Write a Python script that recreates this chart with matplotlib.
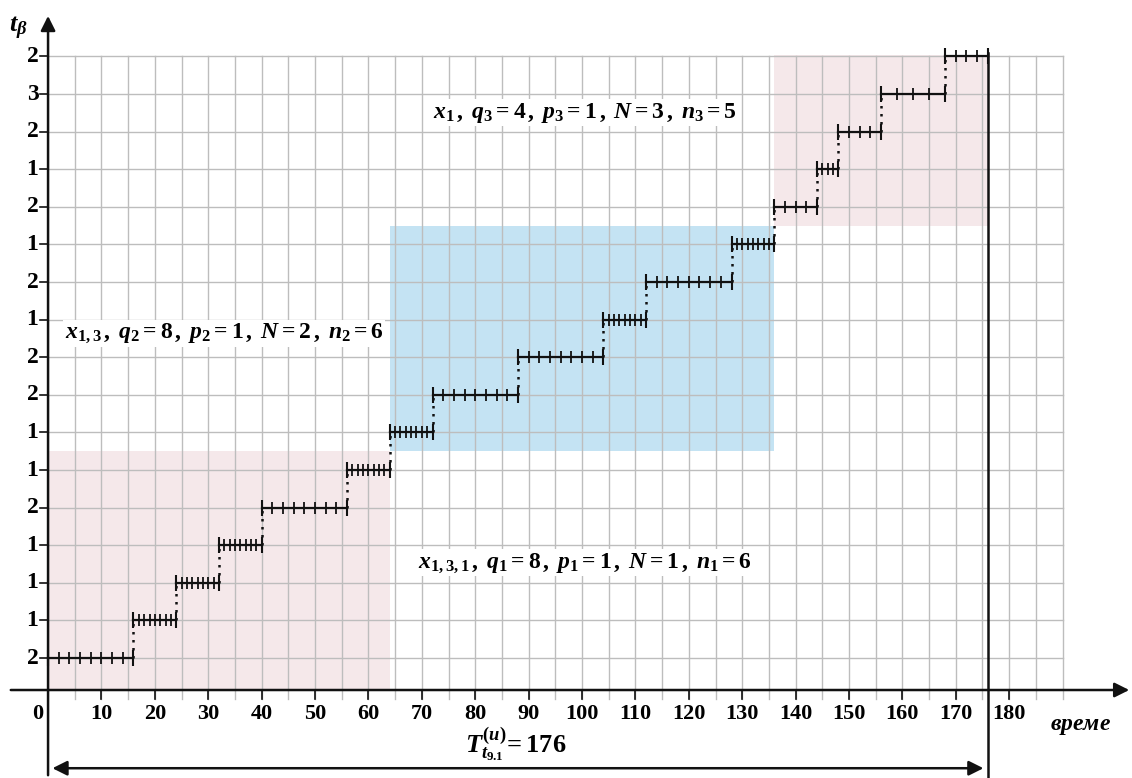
import matplotlib
matplotlib.use('Agg')
import matplotlib.pyplot as plt
import matplotlib.patches as mpatches
import numpy as np

# вредности t_beta по нивоима, одоздо нагоре
t_beta = [2, 1, 1, 1, 2, 1, 1, 2, 2, 1, 2, 1, 2, 1, 2, 3, 2]
# број подеока у сваком сегменту
q_parts = [8] * 12 + [4] * 5
# групе сегмената (почетак, крај) и боја подлоге
groups = [(0, 6, '#f5e8ea'), (6, 12, '#c4e3f3'), (12, 17, '#f5e8ea')]
x_labels = list(range(0, 190, 10))
total_T = 176

plt.rcParams['mathtext.fontset'] = 'custom'
plt.rcParams['mathtext.it'] = 'Liberation Serif:bold:italic'
plt.rcParams['mathtext.rm'] = 'Liberation Serif:bold'
plt.rcParams['mathtext.bf'] = 'Liberation Serif:bold'

fig = plt.figure(figsize=(11.32, 7.78), dpi=100)
ax = fig.add_axes([0, 0, 1, 1])
ax.set_xlim(-9, 203)
ax.set_ylim(-2.19, 18.5)
ax.axis('off')

levels = np.arange(1, len(t_beta) + 1)
durations = np.array(t_beta) * np.array(q_parts)
starts = np.concatenate([[0], np.cumsum(durations)[:-1]])
ends = starts + durations
x_axis_y = 0.15

# подлоге
bounds = [x_axis_y, 6.5, 12.5, 17.05]
for i, (a, b, col) in enumerate(groups):
    ax.add_patch(mpatches.Rectangle((starts[a], bounds[i]), ends[b - 1] - starts[a],
                                    bounds[i + 1] - bounds[i], facecolor=col,
                                    edgecolor='none', zorder=0))

# мрежа
grid_col = '#bdbdbd'
for lv in levels:
    ax.plot([0, 190], [lv, lv], color=grid_col, lw=1, zorder=1)
for gx in range(5, 195, 5):
    ax.plot([gx, gx], [-0.08, levels[-1]], color=grid_col, lw=1, zorder=1)

# осе
ax.annotate('', xy=(203, x_axis_y), xytext=(-7.5, x_axis_y),
            arrowprops=dict(arrowstyle='-|>', color='#111111', lw=1.8,
                            mutation_scale=22), zorder=5)
ax.annotate('', xy=(0, 18.15), xytext=(0, -2.19),
            arrowprops=dict(arrowstyle='-|>', color='#111111', lw=1.8,
                            mutation_scale=22), zorder=5)
for xl in x_labels:
    if xl > 0:
        ax.plot([xl, xl], [x_axis_y, -0.1], color='#111111', lw=1.2, zorder=5)
        ax.text(xl, -0.5, str(xl), ha='center', va='center', fontsize=16,
                family='Liberation Serif', fontweight='bold')
ax.text(-2.0, -0.5, '0', ha='center', va='center', fontsize=16,
        family='Liberation Serif', fontweight='bold')

for lv, tb in zip(levels, t_beta):
    ax.plot([-1.5, 0], [lv, lv], color='#111111', lw=1.2, zorder=5)
    ax.text(-1.8, lv, str(tb), ha='right', va='center', fontsize=17,
            family='Liberation Serif', fontweight='bold')

# степенаста линија
for i, lv in enumerate(levels):
    x0, x1 = starts[i], ends[i]
    ax.plot([x0, x1], [lv, lv], color='#111111', lw=1.6, zorder=4)
    ticks = np.linspace(x0, x1, q_parts[i] + 1)
    ax.plot(ticks[1:-1], [lv] * (len(ticks) - 2), ls='none', marker='|',
            markersize=8, mew=1.3, color='#111111', zorder=4)
    ax.plot([x0, x1], [lv, lv], ls='none', marker='|', markersize=11,
            mew=1.5, color='#111111', zorder=4)
    if i + 1 < len(levels):
        ax.plot([x1, x1], [lv, lv + 1], color='#111111', ls=(0, (1, 2.2)),
                lw=1.8, zorder=4)

# укупно време
ax.plot([total_T, total_T], [17.1, -2.19], color='#111111', lw=1.8, zorder=5)
ax.annotate('', xy=(0.3, -1.93), xytext=(total_T - 0.3, -1.93),
            arrowprops=dict(arrowstyle='<|-|>', color='#111111', lw=1.8,
                            mutation_scale=22), zorder=5)
ax.text(87.5, -1.3, r'$T_{t_{9.1}}^{(u)}\!= \mathrm{%d}$' % total_T,
        ha='center', va='center', fontsize=19)

ax.text(193.3, -0.78, r'$време$', ha='center', va='center', fontsize=17)
ax.text(-5.6, 17.75, r'$t_{\beta}$', ha='center', va='center', fontsize=19)

# ознаке група
ax.text(100.5, 15.5, r'$x_{1}\,,\;q_{3} = 4\,,\;p_{3} = 1\,,\;N = 3\,,\;n_{3} = 5$',
        ha='center', va='center', fontsize=17,
        bbox=dict(facecolor='white', edgecolor='none', pad=1))
ax.text(33, 9.64, r'$x_{1,3}\,,\;q_{2} = 8\,,\;p_{2} = 1\,,\;N = 2\,,\;n_{2} = 6$',
        ha='center', va='center', fontsize=17,
        bbox=dict(facecolor='white', edgecolor='none', pad=1))
ax.text(100.5, 3.53, r'$x_{1,3,1}\,,\;q_{1} = 8\,,\;p_{1} = 1\,,\;N = 1\,,\;n_{1} = 6$',
        ha='center', va='center', fontsize=17,
        bbox=dict(facecolor='white', edgecolor='none', pad=1))

fig.savefig('out.png', dpi=100, facecolor='white')
